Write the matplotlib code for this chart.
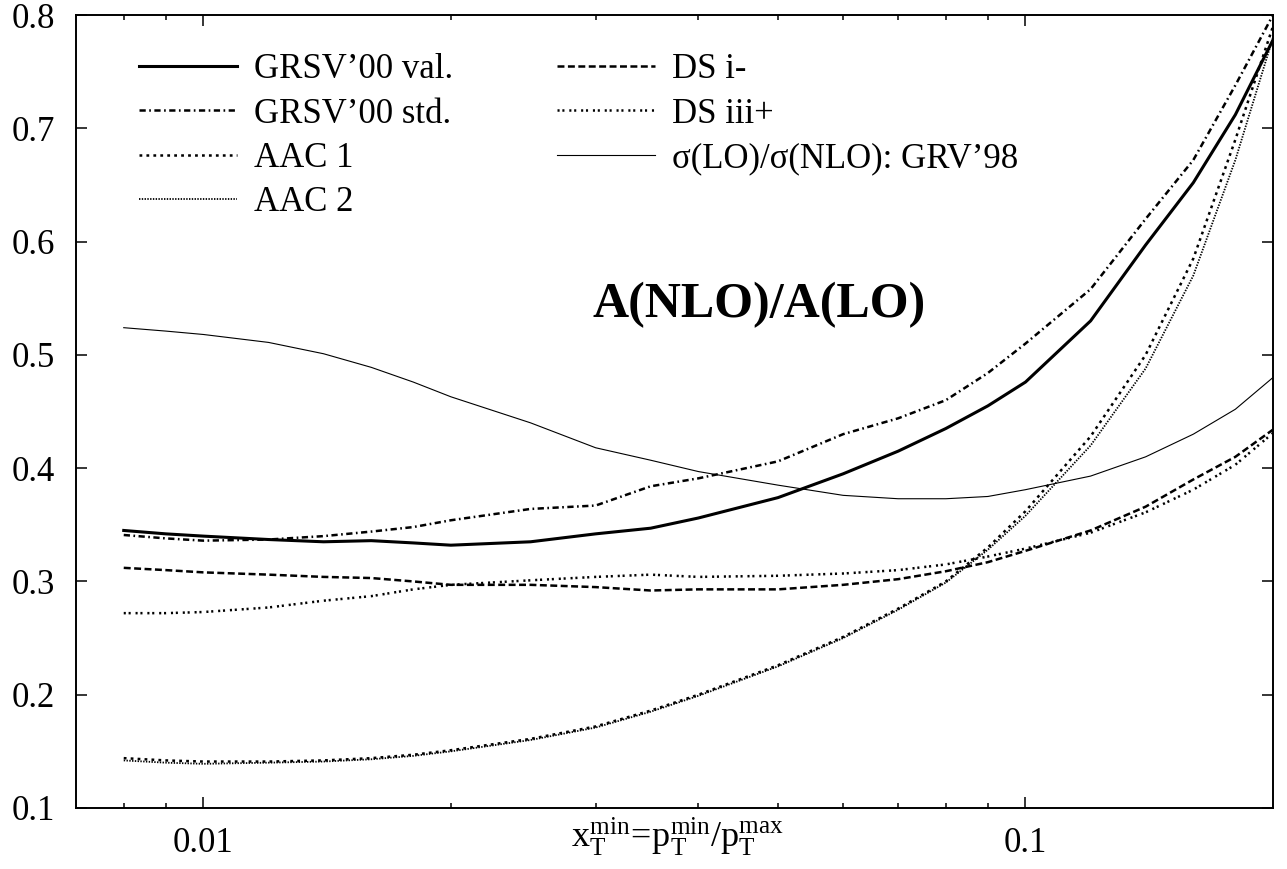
import matplotlib
matplotlib.use('Agg')
import matplotlib.pyplot as plt
from matplotlib.ticker import FixedLocator, FixedFormatter, NullFormatter

# x_T^min values and the ratios
x_t = [0.008, 0.009, 0.01, 0.012, 0.014, 0.016, 0.018, 0.02, 0.025, 0.03,
       0.035, 0.04, 0.05, 0.06, 0.07, 0.08, 0.09, 0.1, 0.12, 0.14, 0.16,
       0.18, 0.2]
grsv_val = [0.345, 0.342, 0.340, 0.337, 0.335, 0.336, 0.334, 0.332, 0.335,
            0.342, 0.347, 0.356, 0.374, 0.395, 0.415, 0.435, 0.455, 0.476,
            0.530, 0.597, 0.652, 0.712, 0.778]
grsv_std = [0.341, 0.338, 0.336, 0.337, 0.340, 0.344, 0.348, 0.354, 0.364,
            0.367, 0.384, 0.391, 0.406, 0.430, 0.444, 0.460, 0.484, 0.510,
            0.558, 0.620, 0.672, 0.738, 0.800]
aac1 = [0.144, 0.142, 0.141, 0.141, 0.142, 0.144, 0.147, 0.151, 0.161, 0.172,
        0.186, 0.200, 0.226, 0.251, 0.276, 0.300, 0.330, 0.362, 0.428, 0.500,
        0.585, 0.690, 0.790]
aac2 = [0.142, 0.140, 0.139, 0.140, 0.141, 0.143, 0.146, 0.150, 0.160, 0.171,
        0.185, 0.199, 0.225, 0.250, 0.275, 0.299, 0.328, 0.358, 0.420, 0.488,
        0.570, 0.672, 0.780]
ds_im = [0.312, 0.310, 0.308, 0.306, 0.304, 0.303, 0.300, 0.297, 0.297, 0.295,
         0.292, 0.293, 0.293, 0.297, 0.302, 0.309, 0.317, 0.327, 0.345, 0.366,
         0.390, 0.410, 0.434]
ds_iiip = [0.272, 0.272, 0.273, 0.277, 0.283, 0.287, 0.293, 0.297, 0.301,
           0.304, 0.306, 0.304, 0.305, 0.307, 0.310, 0.315, 0.322, 0.329,
           0.343, 0.361, 0.381, 0.403, 0.431]
sigma_ratio = [0.524, 0.521, 0.518, 0.511, 0.501, 0.489, 0.476, 0.463, 0.440,
               0.418, 0.407, 0.397, 0.385, 0.376, 0.373, 0.373, 0.375, 0.381,
               0.393, 0.410, 0.430, 0.452, 0.480]

y_ticks = [0.1, 0.2, 0.3, 0.4, 0.5, 0.6, 0.7, 0.8]
x_major = [0.01, 0.1]
x_minor = [0.008, 0.009, 0.02, 0.03, 0.04, 0.05, 0.06, 0.07, 0.08, 0.09]

plt.rcParams['font.family'] = ['Liberation Serif', 'DejaVu Serif']
plt.rcParams['mathtext.fontset'] = 'custom'
plt.rcParams['mathtext.rm'] = 'Liberation Serif'
plt.rcParams['mathtext.it'] = 'Liberation Serif:italic'
plt.rcParams['lines.scale_dashes'] = False


def main():
    fig = plt.figure(figsize=(12.87, 8.69), dpi=100)
    ax = fig.add_axes([0.0591, 0.0702, 0.9300, 0.9125])

    ax.plot(x_t, grsv_val, color='k', lw=2.2, ls='-', label="GRSV’00 val.")
    ax.plot(x_t, grsv_std, color='k', lw=1.8, ls=(0, (4.5, 2.5, 1.2, 2.5)),
            label="GRSV’00 std.")
    ax.plot(x_t, aac1, color='k', lw=1.8, ls=(0, (2, 3)), label='AAC 1')
    ax.plot(x_t, aac2, color='k', lw=1.3, ls=(0, (1, 1)), label='AAC 2')
    ax.plot(x_t, ds_im, color='k', lw=1.8, ls=(0, (5, 2.5)), label='DS i-')
    ax.plot(x_t, ds_iiip, color='k', lw=1.8, ls=(0, (1.5, 2, 1.5, 3.5)),
            label='DS iii+')
    ax.plot(x_t, sigma_ratio, color='k', lw=0.8, ls='-',
            label='σ(LO)/σ(NLO): GRV’98')

    ax.set_xscale('log')
    ax.set_xlim(0.007, 0.2)
    ax.set_ylim(0.1, 0.8)

    ax.xaxis.set_major_locator(FixedLocator(x_major))
    ax.xaxis.set_major_formatter(FixedFormatter(['0.01', '0.1']))
    ax.xaxis.set_minor_locator(FixedLocator(x_minor))
    ax.xaxis.set_minor_formatter(NullFormatter())
    ax.set_yticks(y_ticks)
    ax.set_yticklabels([f'{v:.1f}' for v in y_ticks])

    ax.tick_params(which='both', direction='in', top=True, right=True,
                   labelsize=25, width=1.1)
    ax.tick_params(which='major', length=8)
    ax.tick_params(which='minor', length=3.6)
    ax.tick_params(axis='x', pad=14)
    ax.tick_params(axis='y', pad=15)
    for sp in ax.spines.values():
        sp.set_linewidth(1.4)

    ax.set_xlabel(r'$\mathrm{x_T^{min}\!=\!p_T^{min}/p_T^{max}}$',
                  fontsize=26)
    ax.xaxis.set_label_coords(0.502, -0.01)

    ax.text(0.571, 0.634, 'A(NLO)/A(LO)', transform=ax.transAxes,
            fontsize=36, fontweight='bold', ha='center', va='center')

    ax.legend(loc='upper left', bbox_to_anchor=(0.053, 0.952), ncol=2,
              frameon=False, fontsize=25, borderpad=0, borderaxespad=0,
              handlelength=2.8, handletextpad=0.5, labelspacing=0.33,
              columnspacing=3.0)

    fig.savefig('out.png', dpi=100)


if __name__ == '__main__':
    main()
